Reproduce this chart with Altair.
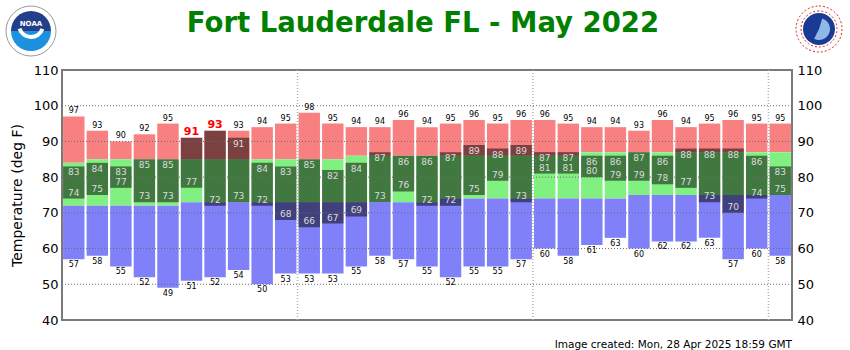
import altair as alt
import pandas as pd

days = list(range(1, 32))
obs_high = [83, 84, 83, 85, 85, 91, 93, 91, 84, 83, 85, 82, 84, 87, 86, 86, 87, 89, 88, 89,
            87, 87, 86, 86, 87, 86, 88, 88, 88, 86, 83]
obs_low = [74, 75, 77, 73, 73, 77, 72, 73, 72, 68, 66, 67, 69, 73, 76, 72, 72, 75, 79, 73,
           81, 81, 80, 79, 79, 78, 77, 73, 70, 74, 75]
norm_high = [84] + [85] * 11 + [86] * 10 + [87] * 9
norm_low = [72] * 5 + [73] * 11 + [74] * 8 + [75] * 7
rec_high = [97, 93, 90, 92, 95, 91, 93, 93, 94, 95, 98, 95, 94, 94, 96, 94, 95, 96, 95, 96,
            96, 95, 94, 94, 93, 96, 94, 95, 96, 95, 95]
rec_low = [57, 58, 55, 52, 49, 51, 52, 54, 50, 53, 53, 53, 55, 58, 57, 55, 52, 55, 55, 57,
           60, 58, 61, 63, 60, 62, 62, 63, 57, 60, 58]
record_days = [6, 7]
y_ticks = [40, 50, 60, 70, 80, 90, 100, 110]
x_ticks = [10, 20, 30]
grid_y = [50, 60, 70, 80, 90, 100]
title_text = "Fort Lauderdale FL - May 2022"
created_text = "Image created: Mon, 28 Apr 2025 18:59 GMT"

FONT = "DejaVu Sans"

daily = pd.DataFrame({
    "day": days, "obs_high": obs_high, "obs_low": obs_low,
    "norm_high": norm_high, "norm_low": norm_low,
    "rec_high": rec_high, "rec_low": rec_low,
})
daily["record"] = daily["day"].isin(record_days)

bands = []
for r in daily.itertuples():
    bands.append({"day": r.day, "lo": r.norm_high, "hi": r.rec_high, "band": "high"})
    bands.append({"day": r.day, "lo": r.norm_low, "hi": r.norm_high, "band": "normal"})
    bands.append({"day": r.day, "lo": r.rec_low, "hi": r.norm_low, "band": "low"})
bands = pd.DataFrame(bands)

xscale = alt.Scale(domain=[0, 31], nice=False, zero=False)
yscale = alt.Scale(domain=[40, 110], nice=False, zero=False)

bar_x = dict(
    x=alt.X("x0:Q", scale=xscale,
            axis=alt.Axis(values=x_ticks, ticks=False, domain=False, grid=False,
                          labelFontSize=14.5, labelFont=FONT, labelColor="black",
                          labelPadding=6, title=None)),
    x2="x1:Q",
)

bg = alt.Chart(bands).transform_calculate(
    x0="datum.day - 1 + 0.045", x1="datum.day - 0.045"
).mark_bar().encode(
    **bar_x,
    y=alt.Y("lo:Q", scale=yscale,
            axis=alt.Axis(values=y_ticks, ticks=False, domain=False, grid=False,
                          labelFontSize=13, labelFont=FONT, labelColor="black",
                          labelPadding=4, title="Temperature (deg F)",
                          titleFont=FONT, titleFontSize=14, titleFontWeight="normal",
                          titleColor="black", titleX=-41, titleY=125,
                          titleBaseline="alphabetic")),
    y2="hi:Q",
    color=alt.Color("band:N",
                    scale=alt.Scale(domain=["high", "normal", "low"],
                                    range=["#F88080", "#80F080", "#8080F8"]),
                    legend=None),
)

obs = alt.Chart(daily).transform_calculate(
    x0="datum.day - 1 + 0.045", x1="datum.day - 0.045"
).mark_bar(color="black", opacity=0.5).encode(
    x=alt.X("x0:Q", scale=xscale, axis=None), x2="x1:Q",
    y=alt.Y("obs_low:Q", scale=yscale, axis=None), y2="obs_high:Q",
)

hgrid = alt.Chart(pd.DataFrame({"v": grid_y})).mark_rule(
    color="#6a6a6a", strokeDash=[1, 2], strokeWidth=1
).encode(y=alt.Y("v:Q", scale=yscale, axis=None))

vgrid = alt.Chart(pd.DataFrame({"v": x_ticks})).mark_rule(
    color="#b0b0b0", strokeDash=[1, 2], strokeWidth=1.5
).encode(x=alt.X("v:Q", scale=xscale, axis=None))

base_lbl = alt.Chart(daily).transform_calculate(xc="datum.day - 0.5")

rec_hi_lbl = base_lbl.transform_filter("!datum.record").mark_text(
    baseline="bottom", dy=-1, fontSize=8, font=FONT, color="black"
).encode(x=alt.X("xc:Q", scale=xscale, axis=None),
         y=alt.Y("rec_high:Q", scale=yscale, axis=None),
         text="rec_high:Q")

rec_new_lbl = base_lbl.transform_filter("datum.record").mark_text(
    baseline="bottom", dy=-1, fontSize=11, font=FONT, fontWeight="bold", color="#ff0000"
).encode(x=alt.X("xc:Q", scale=xscale, axis=None),
         y=alt.Y("rec_high:Q", scale=yscale, axis=None),
         text="rec_high:Q")

rec_lo_lbl = base_lbl.mark_text(
    baseline="top", dy=2, fontSize=8, font=FONT, color="black"
).encode(x=alt.X("xc:Q", scale=xscale, axis=None),
         y=alt.Y("rec_low:Q", scale=yscale,
                 axis=alt.Axis(orient="right", values=y_ticks, ticks=False, domain=False,
                               grid=False, labelFontSize=13, labelFont=FONT,
                               labelColor="black", labelPadding=5, title=None)),
         text="rec_low:Q")

obs_hi_lbl = base_lbl.transform_filter("!datum.record").mark_text(
    baseline="top", dy=2, fontSize=9, font=FONT, color="#dcdcdc"
).encode(x=alt.X("xc:Q", scale=xscale, axis=None),
         y=alt.Y("obs_high:Q", scale=yscale, axis=None),
         text="obs_high:Q")

obs_lo_lbl = base_lbl.mark_text(
    baseline="bottom", dy=-1, fontSize=9, font=FONT, color="#dcdcdc"
).encode(x=alt.X("xc:Q", scale=xscale, axis=None),
         y=alt.Y("obs_low:Q", scale=yscale, axis=None),
         text="obs_low:Q")

one = alt.Data(values=[{"a": 1}])

title = alt.Chart(one).mark_text(
    text=title_text, fontSize=27.5, font=FONT, fontWeight="bold", color="#008000",
    align="center", baseline="alphabetic"
).encode(x=alt.value(361), y=alt.value(-38))

created = alt.Chart(one).mark_text(
    text=created_text, fontSize=10.5, font=FONT, color="black",
    align="right", baseline="alphabetic"
).encode(x=alt.value(730), y=alt.value(278))

# NOAA logo (approximation)
noaa_outer = alt.Chart(one).mark_arc(radius=25, theta=0, theta2=6.2832, fill="white",
                                     stroke="#9a9a9a", strokeWidth=1).encode(
    x=alt.value(-31), y=alt.value(-39))
noaa_top = alt.Chart(one).mark_arc(radius=20, theta=4.7124, theta2=7.854,
                                   fill="#233e8b").encode(x=alt.value(-31), y=alt.value(-39))
noaa_bot = alt.Chart(one).mark_arc(radius=20, theta=1.5708, theta2=4.7124,
                                   fill="#1e90e0").encode(x=alt.value(-31), y=alt.value(-39))
noaa_wing = alt.Chart(one).mark_arc(radius=14, radius2=10, theta=1.9, theta2=4.4,
                                    fill="white").encode(x=alt.value(-31), y=alt.value(-45))
noaa_txt = alt.Chart(one).mark_text(text="NOAA", fontSize=7, font=FONT, fontWeight="bold",
                                    color="white").encode(x=alt.value(-31), y=alt.value(-46))

# NWS logo (approximation)
nws_ring = alt.Chart(one).mark_arc(radius=23, radius2=18, theta=0, theta2=6.2832,
                                   fill="white", stroke="#d81e1e", strokeWidth=1,
                                   strokeDash=[2, 2]).encode(x=alt.value(757), y=alt.value(-41))
nws_in = alt.Chart(one).mark_arc(radius=16, theta=0, theta2=6.2832, fill="#1a3b95").encode(
    x=alt.value(757), y=alt.value(-41))
nws_core = alt.Chart(one).mark_arc(radius=11, theta=0.3, theta2=3.6, fill="#8fb8e8").encode(
    x=alt.value(757), y=alt.value(-41))

chart = alt.layer(
    bg, obs, hgrid, vgrid, rec_hi_lbl, rec_new_lbl, rec_lo_lbl, obs_hi_lbl, obs_lo_lbl,
    title, created, noaa_outer, noaa_top, noaa_bot, noaa_wing, noaa_txt,
    nws_ring, nws_in, nws_core,
).resolve_axis(y="independent").properties(
    width=730, height=250,
    autosize=alt.AutoSizeParams(type="none"),
    padding={"left": 62, "top": 70, "right": 58, "bottom": 30},
    background="white",
).configure_view(stroke="#7a7a7a", strokeWidth=2)

chart.save("out.html", embed_options={"renderer": "svg", "actions": False})
